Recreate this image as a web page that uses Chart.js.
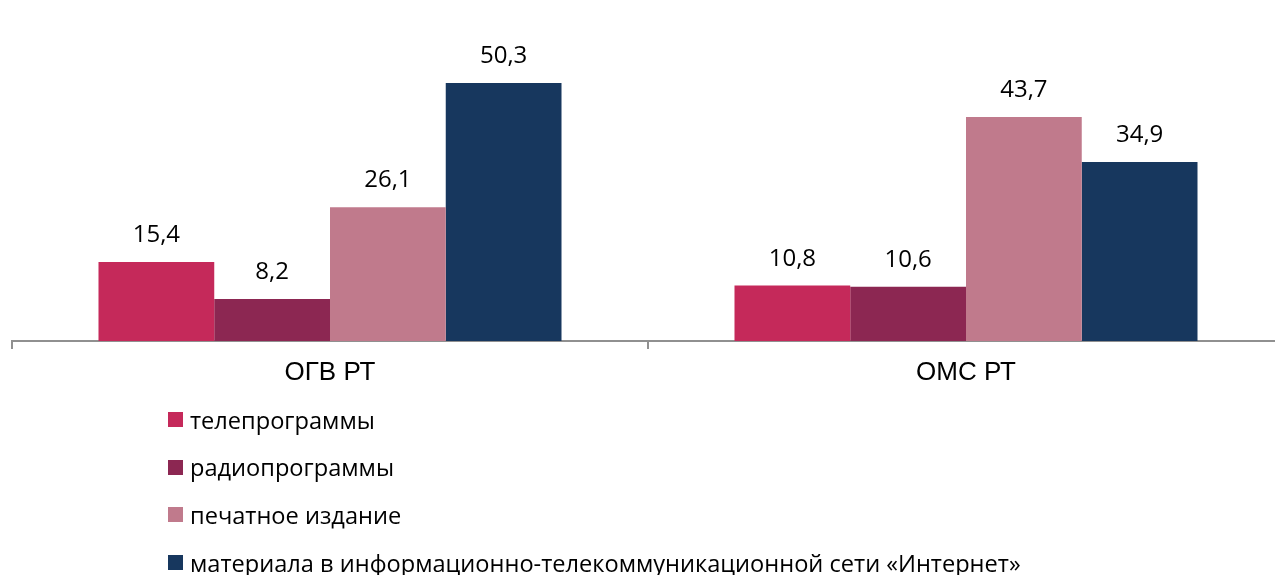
<!DOCTYPE html>
<html>
<head>
<meta charset="utf-8">
<script src="https://cdn.jsdelivr.net/npm/chart.js@4/dist/chart.umd.min.js"></script>
<style>
  body { margin: 0; background: #fff; overflow: hidden; width: 1275px; height: 575px; }
  #wrap { position: relative; width: 1290px; height: 575px; }
  #legend { position: absolute; left: 168px; top: 396px; font-family: "Open Sans", sans-serif; font-size: 23.6px; color: #000; }
  .item { display: flex; align-items: center; height: 47.6px; }
  .box { width: 15px; height: 15px; margin-right: 7px; }
</style>
</head>
<body>
<div id="wrap">
  <canvas id="myChart" width="1290" height="575"></canvas>
  <div id="legend"></div>
</div>
<script>
// categories and series
const categories = ["ОГВ РТ", "ОМС РТ"];
const seriesNames = ["телепрограммы", "радиопрограммы", "печатное издание", "материала в информационно-телекоммуникационной сети «Интернет»"];
const tvValues = [15.4, 10.8];
const radioValues = [8.2, 10.6];
const printValues = [26.1, 43.7];
const internetValues = [50.3, 34.9];
const palette = ["#C5295A", "#8C2752", "#C07A8C", "#17375E"];

const allValues = [tvValues, radioValues, printValues, internetValues];

// value labels above bars
const valueLabels = {
  id: "valueLabels",
  afterDatasetsDraw(chart) {
    const ctx = chart.ctx;
    ctx.save();
    ctx.font = "24px 'Open Sans', sans-serif";
    ctx.fillStyle = "#000";
    ctx.textAlign = "center";
    ctx.textBaseline = "alphabetic";
    chart.data.datasets.forEach(function (ds, i) {
      chart.getDatasetMeta(i).data.forEach(function (bar, j) {
        let txt = ds.data[j].toFixed(1).replace(".", ",");
        ctx.fillText(txt, bar.x, bar.y - 20);
      });
    });
    ctx.restore();
  }
};

new Chart("myChart", {
  type: "bar",
  data: {
    labels: categories,
    datasets: allValues.map(function (vals, i) {
      return {
        label: seriesNames[i],
        data: vals,
        backgroundColor: palette[i],
        barPercentage: 1,
        categoryPercentage: 0.728
      };
    })
  },
  options: {
    responsive: false,
    animation: false,
    layout: { padding: { left: 12, right: 6, top: 0, bottom: 0 } },
    plugins: {
      legend: { display: false },
      tooltip: { enabled: false }
    },
    scales: {
      x: {
        grid: { drawOnChartArea: false, drawTicks: true, tickLength: 8, color: "#909090", lineWidth: 2, offset: true },
        border: { display: true, color: "#909090", width: 2 },
        ticks: { color: "#000", font: { family: "'Liberation Sans', Arial, sans-serif", size: 26 }, padding: 8 },
        afterFit: function (scale) { scale.height = 234; }
      },
      y: {
        display: false,
        min: 0,
        max: 66.5
      }
    }
  },
  plugins: [valueLabels]
});

// legend, one item per line
let legendHtml = "";
for (let i = 0; i < seriesNames.length; i++) {
  legendHtml += '<div class="item"><span class="box" style="background:' + palette[i] + '"></span>' + seriesNames[i] + '</div>';
}
document.getElementById("legend").innerHTML = legendHtml;
</script>
</body>
</html>
